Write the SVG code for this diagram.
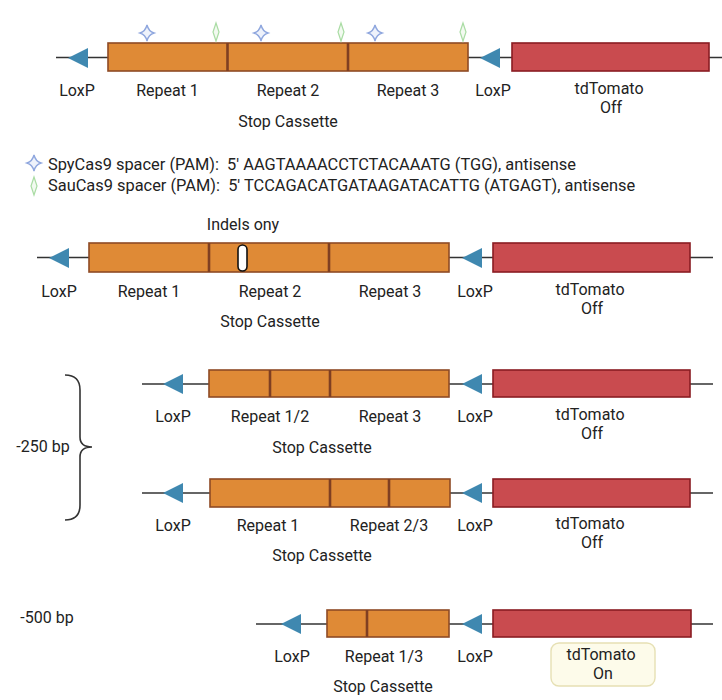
<svg xmlns="http://www.w3.org/2000/svg" width="722" height="700" viewBox="0 0 722 700">
<defs>
<style>
text{font-family:Roboto,"Liberation Sans",sans-serif;font-size:16px;fill:#222;text-anchor:middle}
.lg{text-anchor:start;font-size:16.4px;white-space:pre}
.bb{stroke:#333;stroke-width:1.6;fill:none}
.rep{fill:#df8a36;stroke:#8e4a25;stroke-width:1.6}
.div{stroke:#7f3f22;stroke-width:2.6}
.tom{fill:#c94b4f;stroke:#8a1c22;stroke-width:1.6}
.lox{fill:#3f88b0}
.star{fill:#eef2fb;stroke:#8ea6de;stroke-width:1.4}
.dia{fill:#f2faf0;stroke:#a9dca3;stroke-width:1.2}
</style>
<path id="star" d="M0,-8 Q1.6,-1.6 7,0 Q1.6,1.6 0,8 Q-1.6,1.6 -7,0 Q-1.6,-1.6 0,-8Z"/>
<path id="dia" d="M0,-9 L3,0 L0,9 L-3,0Z"/>
<path id="lox" d="M0,0 L20,-10 L20,10Z"/>
</defs>
<rect width="722" height="700" fill="#fff"/>

<g id="connectors">
<line class="bb" x1="56" y1="57.5" x2="722" y2="57.5"/>
<line class="bb" x1="37" y1="257.5" x2="713" y2="257.5"/>
<line class="bb" x1="142" y1="384" x2="713" y2="384"/>
<line class="bb" x1="142" y1="493" x2="713" y2="493"/>
<line class="bb" x1="256" y1="624" x2="713" y2="624"/>
<path class="bb" d="M65,375 Q80,375 80,390 L80,437 Q80,447 92,447 Q80,447 80,457 L80,505 Q80,520 65,520"/>
</g>

<!-- Row 1 -->
<g id="r1-lox1"><use href="#lox" class="lox" x="68" y="58"/><text x="77" y="96">LoxP</text></g>
<g id="r1-cassette">
<rect class="rep" x="108" y="43" width="360" height="28"/>
<line class="div" x1="227.5" y1="43" x2="227.5" y2="71"/>
<line class="div" x1="348" y1="43" x2="348" y2="71"/>
<text x="167.5" y="96">Repeat 1</text>
<text x="288" y="96">Repeat 2</text>
<text x="408" y="96">Repeat 3</text>
<text x="288" y="127">Stop Cassette</text>
</g>
<g id="r1-sites">
<use href="#star" class="star" x="147" y="33"/>
<use href="#star" class="star" x="261" y="33"/>
<use href="#star" class="star" x="375" y="33"/>
<use href="#dia" class="dia" x="216" y="32"/>
<use href="#dia" class="dia" x="341" y="32"/>
<use href="#dia" class="dia" x="463" y="32"/>
</g>
<g id="r1-lox2"><use href="#lox" class="lox" x="480" y="58"/><text x="493" y="96">LoxP</text></g>
<g id="r1-tomato"><rect class="tom" x="512" y="43" width="197" height="28"/><text x="609" y="94">tdTomato</text><text x="611" y="113">Off</text></g>

<!-- Legend -->
<g id="legend">
<use href="#star" class="star" x="34" y="163"/>
<use href="#dia" class="dia" x="34" y="186"/>
<text class="lg" x="48" y="170" xml:space="preserve">SpyCas9 spacer (PAM):  5' AAGTAAAACCTCTACAAATG (TGG), antisense</text>
<text class="lg" x="48" y="191" xml:space="preserve">SauCas9 spacer (PAM):  5' TCCAGACATGATAAGATACATTG (ATGAGT), antisense</text>
</g>

<!-- Row 2 -->
<g id="r2-lox1"><use href="#lox" class="lox" x="49" y="258"/><text x="59" y="297">LoxP</text></g>
<g id="r2-cassette">
<rect class="rep" x="89" y="243" width="360" height="29"/>
<line class="div" x1="209" y1="243" x2="209" y2="272"/>
<line class="div" x1="329" y1="243" x2="329" y2="272"/>
<rect x="238" y="245" width="9" height="26" rx="4.5" fill="#fff" stroke="#111" stroke-width="1.6"/>
<text x="243" y="230">Indels ony</text>
<text x="149" y="297">Repeat 1</text>
<text x="270" y="297">Repeat 2</text>
<text x="390" y="297">Repeat 3</text>
<text x="270" y="327">Stop Cassette</text>
</g>
<g id="r2-lox2"><use href="#lox" class="lox" x="462" y="258"/><text x="475" y="297">LoxP</text></g>
<g id="r2-tomato"><rect class="tom" x="493" y="243" width="197" height="29"/><text x="590" y="295">tdTomato</text><text x="592" y="314">Off</text></g>

<!-- Row 3 -->
<text x="43" y="452">-250 bp</text>
<g id="r3-lox1"><use href="#lox" class="lox" x="163" y="384"/><text x="173" y="422">LoxP</text></g>
<g id="r3-cassette">
<rect class="rep" x="209" y="370" width="240" height="27"/>
<line class="div" x1="270" y1="370" x2="270" y2="397"/>
<line class="div" x1="330" y1="370" x2="330" y2="397"/>
<text x="270" y="422">Repeat 1/2</text>
<text x="390" y="422">Repeat 3</text>
<text x="322" y="453">Stop Cassette</text>
</g>
<g id="r3-lox2"><use href="#lox" class="lox" x="462" y="384"/><text x="475" y="422">LoxP</text></g>
<g id="r3-tomato"><rect class="tom" x="493" y="370" width="197" height="27"/><text x="590" y="420">tdTomato</text><text x="592" y="439">Off</text></g>

<!-- Row 4 -->
<g id="r4-lox1"><use href="#lox" class="lox" x="163" y="493"/><text x="173" y="531">LoxP</text></g>
<g id="r4-cassette">
<rect class="rep" x="210" y="479" width="240" height="28"/>
<line class="div" x1="330" y1="479" x2="330" y2="507"/>
<line class="div" x1="389" y1="479" x2="389" y2="507"/>
<text x="268" y="531">Repeat 1</text>
<text x="389" y="531">Repeat 2/3</text>
<text x="322" y="561">Stop Cassette</text>
</g>
<g id="r4-lox2"><use href="#lox" class="lox" x="462" y="493"/><text x="475" y="531">LoxP</text></g>
<g id="r4-tomato"><rect class="tom" x="493" y="479" width="197" height="28"/><text x="590" y="529">tdTomato</text><text x="592" y="548">Off</text></g>

<!-- Row 5 -->
<text x="47" y="623">-500 bp</text>
<g id="r5-lox1"><use href="#lox" class="lox" x="281" y="624"/><text x="292" y="662">LoxP</text></g>
<g id="r5-cassette">
<rect class="rep" x="327" y="610" width="122" height="27"/>
<line class="div" x1="367" y1="610" x2="367" y2="637"/>
<text x="384" y="662">Repeat 1/3</text>
<text x="383" y="692">Stop Cassette</text>
</g>
<g id="r5-lox2"><use href="#lox" class="lox" x="462" y="624"/><text x="475" y="662">LoxP</text></g>
<g id="r5-tomato">
<rect class="tom" x="493" y="610" width="198" height="27"/>
<rect x="551" y="643" width="104" height="43" rx="8" fill="#fdfbea" stroke="#e6e0b4" stroke-width="1.4"/>
<text x="601" y="660">tdTomato</text><text x="603" y="679">On</text>
</g>
</svg>
